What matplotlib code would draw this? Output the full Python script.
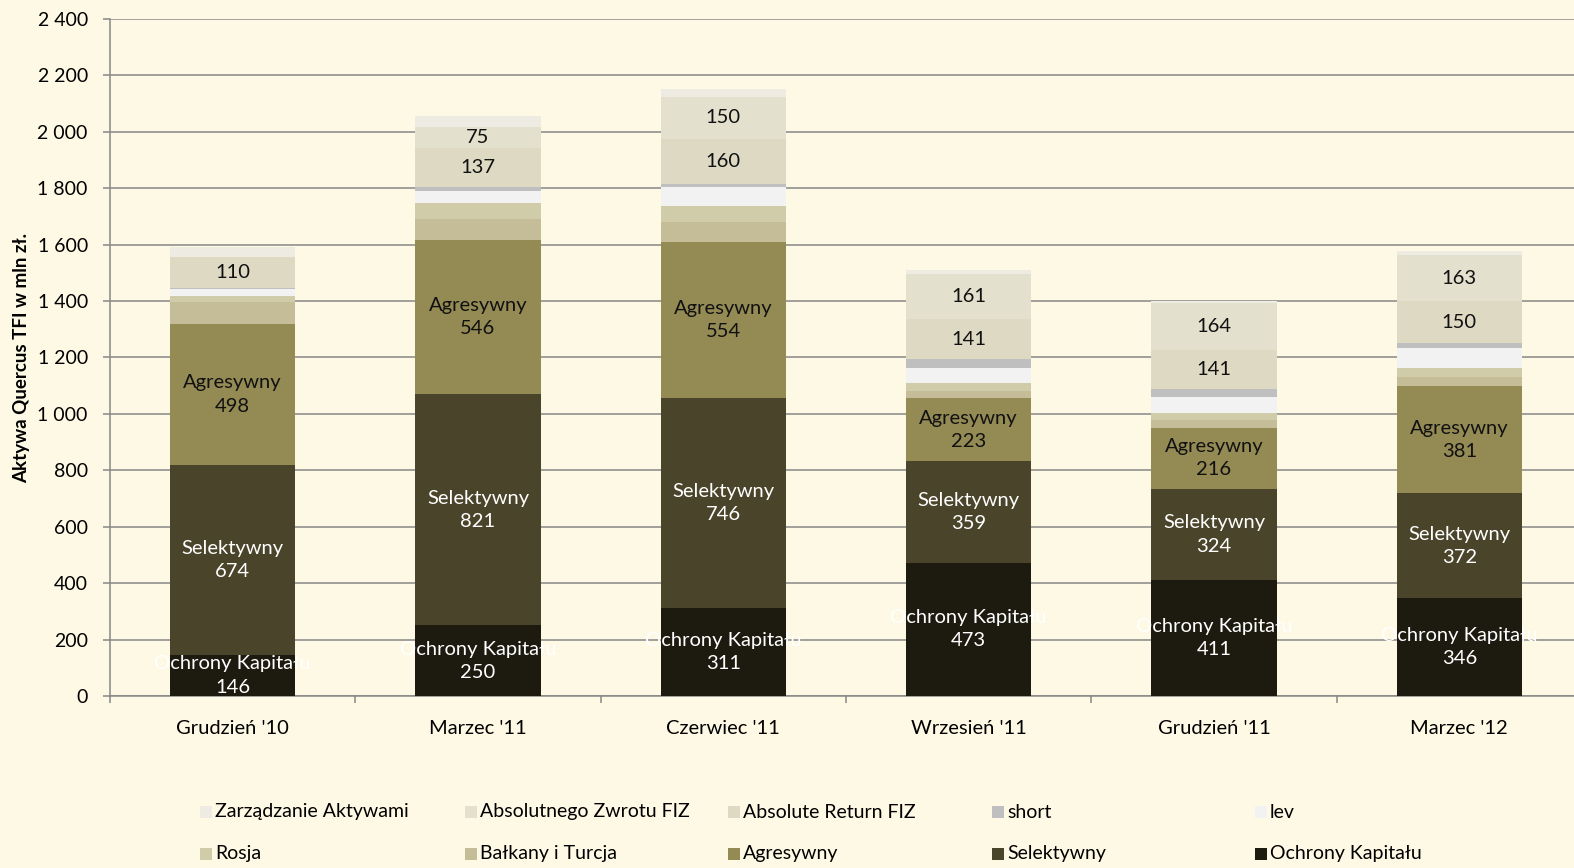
import matplotlib
matplotlib.use("Agg")
import matplotlib.pyplot as plt
import numpy as np
from matplotlib.patches import Rectangle
from matplotlib.ticker import FuncFormatter

plt.rcParams['font.family'] = ['Lato', 'DejaVu Sans']

categories = ["Grudzień '10", "Marzec '11", "Czerwiec '11", "Wrzesień '11", "Grudzień '11", "Marzec '12"]

# series from bottom of the stack to top
ochrony = [146, 250, 311, 473, 411, 346]
selektywny = [674, 821, 746, 359, 324, 372]
agresywny = [498, 546, 554, 223, 216, 381]
balkany = [79, 74, 69, 28, 27, 33]
rosja = [20, 57, 58, 28, 26, 30]
lev = [27, 44, 68, 51, 57, 73]
short = [3, 12, 9, 33, 26, 15]
absolute_return = [110, 137, 160, 141, 141, 150]
absolutnego = [0, 75, 150, 161, 164, 163]
zarzadzanie = [33, 41, 27, 13, 8, 15]

series = [
    ("Ochrony Kapitału", ochrony, "#1d1b10"),
    ("Selektywny", selektywny, "#4a452a"),
    ("Agresywny", agresywny, "#948a54"),
    ("Bałkany i Turcja", balkany, "#c4bd97"),
    ("Rosja", rosja, "#d0cba9"),
    ("lev", lev, "#f2f2f2"),
    ("short", short, "#bfbfbf"),
    ("Absolute Return FIZ", absolute_return, "#ddd9c3"),
    ("Absolutnego Zwrotu FIZ", absolutnego, "#e3e0cd"),
    ("Zarządzanie Aktywami", zarzadzanie, "#eeece2"),
]

bg = "#fef9e4"
fig = plt.figure(figsize=(15.74, 8.68), dpi=100, facecolor=bg)
ax = fig.add_axes([110 / 1574, 172 / 868, 1472 / 1574, 677 / 868])
ax.set_facecolor(bg)

x = np.arange(len(categories))
bottom = np.zeros(len(categories))
for name, vals, color in series:
    vals = np.array(vals, dtype=float)
    ax.bar(x, vals, 0.51, bottom=bottom, color=color, zorder=3, linewidth=0)
    for i, v in enumerate(vals):
        cy = bottom[i] + v / 2
        if name in ("Ochrony Kapitału", "Selektywny", "Agresywny"):
            tc = "white" if name != "Agresywny" else "#111111"
            ax.text(x[i], cy, f"{name}\n{int(v)}", ha="center", va="center",
                    fontsize=14.5, color=tc, zorder=5, linespacing=1.45)
        elif name in ("Absolute Return FIZ", "Absolutnego Zwrotu FIZ") and v > 0:
            ax.text(x[i], cy, f"{int(v)}", ha="center", va="center",
                    fontsize=14.5, color="#111111", zorder=5)
    bottom += vals

ax.set_xlim(-0.5, len(categories) - 0.5)
ax.set_ylim(0, 2400)
ax.set_yticks(np.arange(0, 2401, 200))
ax.yaxis.set_major_formatter(FuncFormatter(lambda v, p: f"{v:,.0f}".replace(",", " ")))
ax.grid(axis="y", color="#878787", linewidth=1.1, zorder=0)

ax.set_xticks(x)
ax.set_xticklabels(categories)
ax.set_xticks(np.arange(-0.5, len(categories), 1), minor=True)
ax.tick_params(axis="x", which="major", length=0, pad=17, labelsize=14.5)
ax.tick_params(axis="x", which="minor", length=5, color="#878787", width=1.1)
ax.tick_params(axis="y", length=5, color="#878787", width=1.1, pad=11, labelsize=14)

for s in ["top", "right"]:
    ax.spines[s].set_visible(False)
for s in ["left", "bottom"]:
    ax.spines[s].set_color("#878787")
    ax.spines[s].set_linewidth(1.1)

fig.text(22 / 1574, 1 - 358 / 868, "Aktywa Quercus TFI w mln zł.", rotation=90,
         ha="center", va="center", fontsize=13.5, fontweight="bold")

# legend, row-major, top of the stack first
legend_order = series[::-1]
col_x = [200, 465, 728, 992, 1255]
row_y = [812, 854]
for k, (name, vals, color) in enumerate(legend_order):
    r, c = divmod(k, 5)
    px, py = col_x[c], row_y[r]
    fig.patches.append(Rectangle((px / 1574, 1 - (py + 6) / 868), 12 / 1574, 12 / 868,
                                 transform=fig.transFigure, facecolor=color, edgecolor="none"))
    fig.text((px + 15) / 1574, 1 - py / 868, name, ha="left", va="center", fontsize=14)

fig.savefig("out.png", dpi=100, facecolor=bg)
